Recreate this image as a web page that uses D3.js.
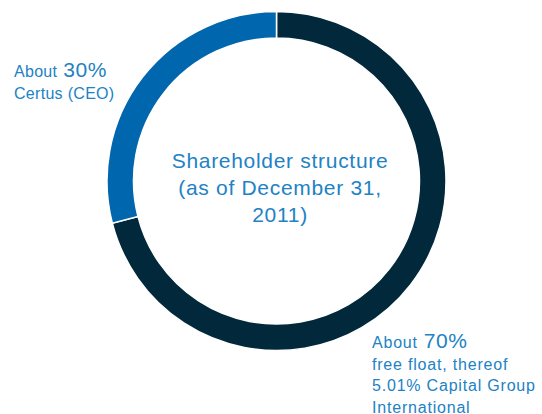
<!DOCTYPE html>
<html>
<head>
<meta charset="utf-8">
<script src="https://cdn.jsdelivr.net/npm/d3@7"></script>
<style>
  body { margin: 0; background: #fff; }
  svg text { font-family: "Liberation Sans", Arial, sans-serif; fill: #2182c4; }
</style>
</head>
<body>
<div id="chart"></div>
<script>
// DATA
var holders = ["Free float", "Certus (CEO)"];
var shares = [71, 29];
var colors = ["#02293b", "#0067ae"];

var titleLines = ["Shareholder structure", "(as of December 31,", "2011)"];
var leftLabel = { pre: "About", pct: "30%", lines: ["Certus (CEO)"] };
var rightLabel = { pre: "About", pct: "70%", lines: ["free float, thereof", "5.01% Capital Group", "International"] };

// SET UP DIMENSIONS
var w = 542,
    h = 414;
var cx = 276.5,
    cy = 181,
    outerR = 169.5,
    innerR = 143;

var svg = d3.select('#chart').append('svg')
  .attr('width', w)
  .attr('height', h);

var pie = d3.pie()
  .sort(null)
  .value(function(d) { return d; });

var arc = d3.arc()
  .innerRadius(innerR)
  .outerRadius(outerR);

var ring = svg.append('g')
  .attr('transform', translation(cx, cy));

ring.selectAll('path')
  .data(pie(shares))
  .enter().append('path')
    .attr('d', arc)
    .attr('fill', function(d, i) { return colors[i]; })
    .attr('stroke', '#fff')
    .attr('stroke-width', 1.5);

// title in the middle
svg.append('g')
  .attr('transform', translation(280, 168))
  .selectAll('text')
  .data(titleLines)
  .enter().append('text')
    .attr('y', function(d, i) { return i * 27; })
    .attr('text-anchor', 'middle')
    .style('font-size', '21px')
    .style('letter-spacing', '0.7px')
    .text(function(d) { return d; });

// side labels
function drawLabel(lab, x, y, spacing) {
  var g = svg.append('g').attr('transform', translation(x, y));
  var t = g.append('text').style('font-size', '16px').style('letter-spacing', spacing + 'px');
  t.append('tspan').text(lab.pre);
  t.append('tspan').attr('dx', 6).style('font-size', '21px').style('letter-spacing', '0.6px').text(lab.pct);
  g.selectAll('text.line')
    .data(lab.lines)
    .enter().append('text')
      .attr('class', 'line')
      .attr('y', function(d, i) { return (i + 1) * 21.5; })
      .style('font-size', '16px')
      .style('letter-spacing', spacing + 'px')
      .text(function(d) { return d; });
}

drawLabel(leftLabel, 14, 77, 0.3);
drawLabel(rightLabel, 372, 348, 0.8);

function translation(x, y) {
  return 'translate(' + x + ',' + y + ')';
}
</script>
</body>
</html>
